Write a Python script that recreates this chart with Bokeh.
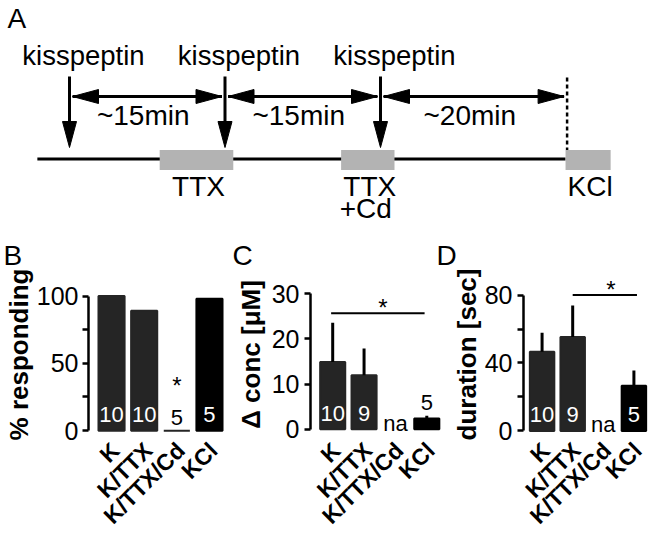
import math
import numpy as np
from bokeh.plotting import figure
from bokeh.models import Range1d, FixedTicker, ColumnDataSource
from bokeh.layouts import column, row
from bokeh.core.properties import value
from bokeh.embed import file_html
from bokeh.resources import INLINE

FONT = "Liberation Sans"
nan = float("nan")

# ---------------- Panel A: protocol schematic (minutes) ----------------
kiss_times = [0, 15, 30]
interval_start = [0, 15, 30]
interval_end = [15, 30, 48]
interval_labels = ["~15min", "~15min", "~20min"]
treat_labels = ["TTX", "TTX", "KCl"]
treat_sublabels = ["", "+Cd", ""]
treat_start = [8.7, 26.2, 47.85]
treat_end = [15.8, 31.35, 52.2]
timeline = [-3.1, 47.85]
kcl_time = 48

# ---------------- Panels B-D ----------------
categories = ["K", "K/TTX", "K/TTX/Cd", "KCl"]
bar_colors = ["#252525", "#252525", "#252525", "#000000"]

pct_responding = [100, 89, 0, 98]
n_B = ["10", "10", "5", "5"]
star_B_x, star_B_level = 2, 33.5

conc_mean = [14.9, 12.0, nan, 2.4]
conc_sem = [8.7, 5.9, nan, 0.6]
n_C = ["10", "9", "na", "5"]
sig_C_span, sig_C_level, star_C_x = [-0.05, 2.93], 25.7, 1.6

dur_mean = [46.6, 55.3, nan, 26.6]
dur_sem = [11.2, 18.5, nan, 9.0]
n_D = ["10", "9", "na", "5"]
sig_D_span, sig_D_level, star_D_x = [1.0, 3.1], 80, 2.25

panel_letters = ["B", "C", "D"]

# ================= Panel A =================
PXM = 155.5 / 15.0      # px per minute (schematic)
WA, HA = 656, 270
ORIGIN = 69             # px from left edge to t = 0
pa = figure(width=WA, height=HA, output_backend="svg", toolbar_location=None,
            x_range=Range1d(-ORIGIN / PXM, (WA - ORIGIN) / PXM),
            y_range=Range1d(HA, 0), x_axis_type=None, y_axis_type=None,
            min_border=0, outline_line_color=None)


def px_to_t(page_x):
    return (page_x - ORIGIN) / PXM


Y_KISS_TEXT = 55
Y_ARROW_TOP = 76
Y_ARROW_TIP = 147
Y_SPAN = 96
Y_SPAN_TEXT = 114.5
Y_LINE = 158.5
Y_BOX_TOP, Y_BOX_BOT = 149.5, 169.5
Y_TREAT_TEXT = 186
Y_TREAT_SUB = 208
Y_DASH_TOP = 77
Y_LETTERS = 255
HL, HW, GAP = 26, 14, 3

pa.segment(x0=[timeline[0]], y0=[Y_LINE], x1=[timeline[1]], y1=[Y_LINE],
           line_width=3, line_color="black")
pa.quad(left=treat_start, right=treat_end, top=[Y_BOX_TOP] * 3, bottom=[Y_BOX_BOT] * 3,
        fill_color="#b3b3b3", line_color=None)
pa.segment(x0=kiss_times, y0=[Y_ARROW_TOP] * 3, x1=kiss_times,
           y1=[Y_ARROW_TIP - HL + 2] * 3, line_width=3, line_color="black")
pa.patches(xs=[[t - HW / 2 / PXM, t + HW / 2 / PXM, t] for t in kiss_times],
           ys=[[Y_ARROW_TIP - HL, Y_ARROW_TIP - HL, Y_ARROW_TIP] for _ in kiss_times],
           fill_color="black", line_color="black", line_width=1)
lefts = [a + GAP / PXM for a in interval_start]
rights = [b - GAP / PXM for b in interval_end]
pa.segment(x0=lefts, y0=[Y_SPAN] * 3, x1=rights, y1=[Y_SPAN] * 3,
           line_width=3, line_color="black")
hx, hy = [], []
for l, r in zip(lefts, rights):
    hx.append([l, l + HL / PXM, l + HL / PXM]); hy.append([Y_SPAN, Y_SPAN - HW / 2, Y_SPAN + HW / 2])
    hx.append([r, r - HL / PXM, r - HL / PXM]); hy.append([Y_SPAN, Y_SPAN - HW / 2, Y_SPAN + HW / 2])
pa.patches(xs=hx, ys=hy, fill_color="black", line_color="black", line_width=1)
pa.segment(x0=[kcl_time], y0=[Y_DASH_TOP], x1=[kcl_time], y1=[Y_BOX_TOP],
           line_width=2.5, line_dash="4 3", line_color="black")

txt = dict(text_baseline="middle", text_font=value(FONT), text_color="black")
pa.text(x=kiss_times, y=[Y_KISS_TEXT] * 3, text=["kisspeptin"] * 3, x_offset=14,
        text_align="center", text_font_size="27.5px", **txt)
mids = [(a + b) / 2 for a, b in zip(interval_start, interval_end)]
pa.text(x=mids, y=[Y_SPAN_TEXT] * 3, text=interval_labels, x_offset=-4,
        text_align="center", text_font_size="28px", **txt)
tc = [(a + b) / 2 for a, b in zip(treat_start, treat_end)]
pa.text(x=tc, y=[Y_TREAT_TEXT] * 3, text=treat_labels, x_offset=2,
        text_align="center", text_font_size="28px", **txt)
pa.text(x=tc, y=[Y_TREAT_SUB] * 3, text=treat_sublabels, x_offset=-2,
        text_align="center", text_font_size="28px", **txt)
pa.text(x=[px_to_t(7)], y=[18], text=["A"], text_align="left",
        text_font_size="28px", **txt)
pa.text(x=[px_to_t(3), px_to_t(232), px_to_t(436)], y=[Y_LETTERS] * 3,
        text=panel_letters, text_align="left", text_font_size="28px", **txt)

# ================= Bar panels =================
ROW_TOP, ROW_H = 270, 271
FRAME_BOTTOM = 441
FRAME_H = FRAME_BOTTOM - ROW_TOP
XLABEL_SHIFT = 0.12


def make_panel(fig_left, width, frame_left, c0, spacing, zero_y, s, means, errs, ns,
               ylabel, yticks, yminor, ytop, label_std, tick_std):
    x_start = -(c0 - frame_left) / spacing
    x_end = x_start + (fig_left + width - frame_left) / spacing
    y_start = -(FRAME_BOTTOM - zero_y) / s
    y_end = y_start + FRAME_H / s
    p = figure(width=width, height=ROW_H, output_backend="svg", toolbar_location=None,
               x_range=Range1d(x_start, x_end), y_range=Range1d(y_start, y_end),
               min_border_left=frame_left - fig_left, min_border_right=0,
               min_border_top=0, min_border_bottom=ROW_H - FRAME_H,
               outline_line_color=None)
    p.grid.visible = False
    xs = list(range(len(categories)))
    m = np.array(means, dtype=float)
    e = np.array(errs, dtype=float) if errs is not None else np.zeros(len(m))
    src = ColumnDataSource(dict(x=xs, top=m, color=bar_colors))
    p.vbar(x="x", top="top", bottom=0, width=0.8, source=src,
           fill_color="color", line_color="color", line_width=2)
    if errs is not None:
        p.segment(x0=xs, y0=m, x1=xs, y1=m + e, line_width=3, line_color="black")
    ty, toff, tcol = [], [], []
    for mi, ei in zip(m, e):
        if math.isnan(mi):
            ty.append(0); toff.append(-6); tcol.append("black")
        elif mi * s < 25:
            ty.append(mi + (0 if math.isnan(ei) else ei)); toff.append(-13); tcol.append("black")
        else:
            ty.append(0); toff.append(-16); tcol.append("white")
    p.text(x=xs, y=ty, text=ns, y_offset=toff, text_color=tcol, text_align="center",
           text_baseline="middle", text_font=value(FONT), text_font_size="22px")
    ya = p.yaxis[0]
    ya.ticker = FixedTicker(ticks=yticks, minor_ticks=yminor)
    ya.bounds = (0, ytop)
    ya.axis_line_width = 2.5
    ya.major_tick_line_width = 2.5
    ya.minor_tick_line_width = 2.5
    ya.major_tick_in = 0
    ya.major_tick_out = 6
    ya.minor_tick_in = 0
    ya.minor_tick_out = 6
    ya.major_label_text_font = FONT
    ya.major_label_text_font_size = "25px"
    ya.major_label_text_color = "black"
    ya.major_label_standoff = tick_std
    ya.axis_label = ylabel
    ya.axis_label_text_font = FONT
    ya.axis_label_text_font_style = "bold"
    ya.axis_label_text_font_size = "26px"
    ya.axis_label_text_color = "black"
    ya.axis_label_standoff = label_std
    xa = p.xaxis[0]
    xt = [i + XLABEL_SHIFT for i in xs]
    xa.ticker = FixedTicker(ticks=xt)
    xa.major_label_overrides = {t: c for t, c in zip(xt, categories)}
    xa.major_label_orientation = math.pi / 4
    xa.major_label_text_font = FONT
    xa.major_label_text_font_style = "bold"
    xa.major_label_text_font_size = "23px"
    xa.major_label_text_color = "black"
    xa.major_label_standoff = 2
    xa.axis_line_color = None
    xa.major_tick_line_color = None
    xa.minor_tick_line_color = None
    return p


star_style = dict(text_align="center", text_baseline="middle",
                  text_font=value(FONT), text_font_size="24px", text_color="black")

pb = make_panel(0, 232, 82, 106, 34.0, 433.0, 1.37, pct_responding, None, n_B,
                "% responding", [0, 50, 100], [25, 75], 100, 0, 4)
pb.text(x=[star_B_x], y=[star_B_level], text=["*"], **star_style)

pc = make_panel(232, 216, 305, 328, 32.5, 431.7, 4.6, conc_mean, conc_sem, n_C,
                "Δ conc [μM]", [0, 10, 20, 30], [], 30, 3, 5)
pc.segment(x0=[sig_C_span[0]], y0=[sig_C_level], x1=[sig_C_span[1]], y1=[sig_C_level],
           line_width=2, line_color="black")
pc.text(x=[star_C_x], y=[sig_C_level], y_offset=-6, text=["*"], **star_style)

pd_ = make_panel(448, 208, 520, 539, 31.3, 433.3, 138.3 / 80, dur_mean, dur_sem, n_D,
                 "duration [sec]", [0, 40, 80], [20, 60], 80, 0, 5)
pd_.segment(x0=[sig_D_span[0]], y0=[sig_D_level], x1=[sig_D_span[1]], y1=[sig_D_level],
            line_width=2, line_color="black")
pd_.text(x=[star_D_x], y=[sig_D_level], y_offset=-6, text=["*"], **star_style)

layout = column(pa, row(pb, pc, pd_))
open("out.html", "w").write(file_html(layout, INLINE))
